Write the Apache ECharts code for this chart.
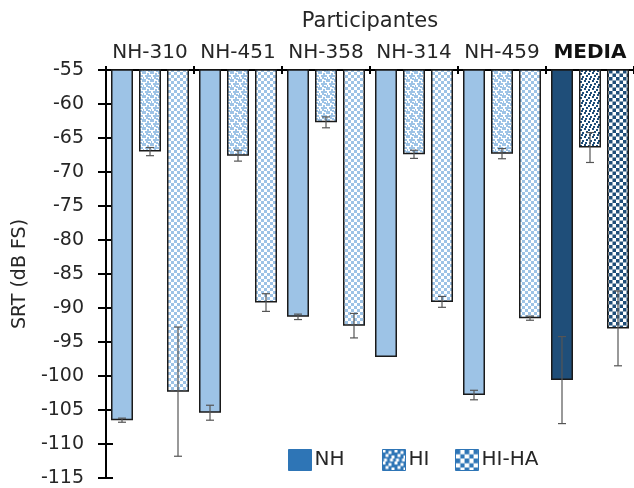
<!DOCTYPE html>
<html>
<head>
<meta charset="utf-8">
<script src="https://cdn.jsdelivr.net/npm/echarts@6/dist/echarts.min.js"></script>
<style>
  html, body { margin: 0; padding: 0; background: #ffffff; }
  #chart { width: 634px; height: 488px; }
</style>
</head>
<body>
<div id="chart"></div>
<script>
// Speech reception thresholds per participant and the group mean
const categories = ['NH-310', 'NH-451', 'NH-358', 'NH-314', 'NH-459', 'MEDIA'];
const seriesNames = ['NH', 'HI', 'HI-HA'];

const nhValues   = [-106.5, -105.4, -91.3, -97.2, -102.8, -100.6];
const nhErrors   = [0.3, 1.1, 0.4, 0, 0.7, 6.4];
const hiValues   = [-67.0, -67.6, -62.7, -67.4, -67.3, -66.4];
const hiErrors   = [0.6, 0.8, 0.8, 0.6, 0.75, 2.2];
const hihaValues = [-102.3, -89.2, -92.6, -89.1, -91.5, -93.0];
const hihaErrors = [9.5, 1.3, 1.8, 0.8, 0.3, 5.5];

const yMin = -115, yMax = -55, yStep = 5;

// Styling
const FONT = 'DejaVu Sans';
const TEXT = '#262626';
const LIGHT = '#9dc3e6';
const DARK = '#1f4e79';
const MID = '#2e75b6';
const BAR_W = 22, BAR_GAP = 6;

function checker(fg, bg, cell) {
  const c = document.createElement('canvas');
  c.width = c.height = cell * 2;
  const g = c.getContext('2d');
  g.fillStyle = bg; g.fillRect(0, 0, cell * 2, cell * 2);
  g.fillStyle = fg;
  g.fillRect(0, 0, cell, cell);
  g.fillRect(cell, cell, cell, cell);
  return { image: c, repeat: 'repeat' };
}

// Irregular speckle tile: fixed dot layout on a small square
function speckle(fg, bg, scale, dots) {
  const size = 8 * scale;
  const c = document.createElement('canvas');
  c.width = c.height = size;
  const g = c.getContext('2d');
  g.fillStyle = bg; g.fillRect(0, 0, size, size);
  g.fillStyle = fg;
  dots.forEach(([x, y]) => g.fillRect(x * scale, y * scale, 2 * scale, 2 * scale));
  return { image: c, repeat: 'repeat' };
}
const DENSE = [[0,0],[3,1],[6,0],[1,3],[5,3],[7,5],[2,5],[4,6],[0,7],[6,7],[3,3]];
const SPARSE = [[0,0],[4,1],[2,3],[6,4],[1,6],[5,6]];

const fills = {
  NH:   { normal: LIGHT, mean: DARK, legend: MID },
  HI:   { normal: speckle(LIGHT, '#ffffff', 1, DENSE), mean: speckle(DARK, '#ffffff', 1, SPARSE), legend: speckle('#ffffff', MID, 1.5, SPARSE) },
  'HI-HA': { normal: checker(LIGHT, '#ffffff', 3), mean: checker(DARK, '#ffffff', 3.5), legend: checker(MID, '#ffffff', 4.8) }
};

const valuesByName = { 'NH': nhValues, 'HI': hiValues, 'HI-HA': hihaValues };
const errorsByName = { 'NH': nhErrors, 'HI': hiErrors, 'HI-HA': hihaErrors };
const meanIndex = categories.indexOf('MEDIA');

const barSeries = seriesNames.map(name => ({
  name: name,
  type: 'bar',
  barWidth: BAR_W,
  barGap: (BAR_GAP / BAR_W * 100) + '%',
  clip: true,
  itemStyle: { color: fills[name].normal, borderColor: '#1a1a1a', borderWidth: 1.5 },
  data: valuesByName[name].map((v, i) => i === meanIndex
    ? { value: v, itemStyle: { color: fills[name].mean } }
    : v),
  z: 2
}));

const errorSeries = seriesNames.map((name, idx) => ({
  type: 'custom',
  silent: true,
  z: 5,
  encode: { x: 0, y: 1 },
  data: valuesByName[name].map((v, i) => [i, v, errorsByName[name][i]]),
  renderItem: function (params, api) {
    const e = api.value(2);
    if (!e) return null;
    const ci = api.value(0), v = api.value(1);
    const hi = api.coord([ci, v + e]);
    const lo = api.coord([ci, v - e]);
    const x = hi[0] + (idx - 1) * (BAR_W + BAR_GAP);
    const cap = 4;
    const style = { stroke: '#555555', lineWidth: 1.2 };
    return {
      type: 'group',
      children: [
        { type: 'line', shape: { x1: x, y1: hi[1], x2: x, y2: lo[1] }, style: style },
        { type: 'line', shape: { x1: x - cap, y1: hi[1], x2: x + cap, y2: hi[1] }, style: style },
        { type: 'line', shape: { x1: x - cap, y1: lo[1], x2: x + cap, y2: lo[1] }, style: style }
      ]
    };
  }
}));

function legendFor(name, left) {
  return {
    left: left, top: 444,
    itemWidth: 23, itemHeight: 21, itemGap: 0,
    icon: 'rect',
    textStyle: { fontFamily: FONT, fontSize: 20, color: TEXT, padding: [0, 0, 0, -2] },
    data: [{ name: name, itemStyle: { color: fills[name].legend, borderColor: MID, borderWidth: 1 } }],
    selectedMode: false
  };
}

const chart = echarts.init(document.getElementById('chart'), null, { renderer: 'canvas' });
chart.setOption({
  animation: false,
  backgroundColor: '#ffffff',
  grid: { left: 106, top: 70, width: 532, height: 408, containLabel: false },
  legend: [legendFor('NH', 283), legendFor('HI', 377), legendFor('HI-HA', 450)],
  xAxis: [
    {
      type: 'category',
      position: 'top',
      data: categories,
      name: 'Participantes',
      nameLocation: 'middle',
      nameGap: 38,
      nameTextStyle: { fontFamily: FONT, fontSize: 21, color: TEXT },
      axisLine: { onZero: false, lineStyle: { color: '#000000', width: 2 } },
      axisTick: { show: true, length: 4, lineStyle: { color: '#000000', width: 2 } },
      axisLabel: {
        interval: 0,
        hideOverlap: false,
        margin: 7,
        fontFamily: FONT, fontSize: 20, color: TEXT,
        formatter: v => v === 'MEDIA' ? '{b|' + v + '}' : v,
        rich: { b: { fontFamily: FONT, fontSize: 20, fontWeight: 'bold', color: '#111111' } }
      },
      splitLine: { show: false }
    },
    {
      type: 'category',
      position: 'top',
      data: categories,
      axisLine: { show: false, onZero: false },
      axisTick: { show: true, inside: true, length: 4, lineStyle: { color: '#000000', width: 2 } },
      axisLabel: { show: false },
      splitLine: { show: false }
    }
  ],
  yAxis: [
    {
      type: 'value',
      position: 'left',
      min: yMin, max: yMax, interval: yStep,
      name: 'SRT (dB FS)',
      nameLocation: 'middle',
      nameGap: 72,
      nameTextStyle: { fontFamily: FONT, fontSize: 19, color: TEXT },
      axisLine: { show: true, onZero: false, lineStyle: { color: '#000000', width: 2 } },
      axisTick: { show: true, length: 8, lineStyle: { color: '#000000', width: 2 } },
      axisLabel: { margin: 22, fontFamily: FONT, fontSize: 19, color: TEXT },
      splitLine: { show: false }
    },
    {
      type: 'value',
      position: 'left',
      min: yMin, max: yMax, interval: yStep,
      axisLine: { show: false, onZero: false },
      axisTick: { show: true, inside: true, length: 7, lineStyle: { color: '#000000', width: 2 } },
      axisLabel: { show: false },
      splitLine: { show: false }
    }
  ],
  series: barSeries.concat(errorSeries)
});
</script>
</body>
</html>
